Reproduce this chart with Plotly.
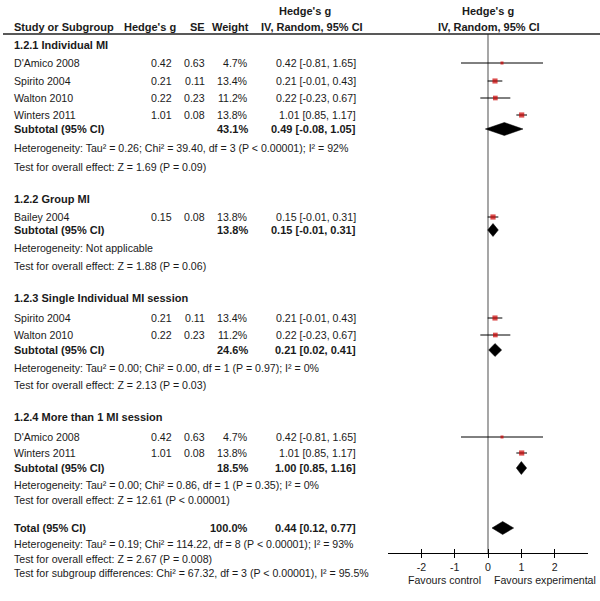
import plotly.graph_objects as go

# ---------------- data ----------------
group_titles = ["1.2.1 Individual MI", "1.2.2 Group MI",
                "1.2.3 Single Individual MI session", "1.2.4 More than 1 MI session"]

study_names = ["D'Amico 2008", "Spirito 2004", "Walton 2010", "Winters 2011",
               "Bailey 2004",
               "Spirito 2004", "Walton 2010",
               "D'Amico 2008", "Winters 2011"]
study_g = [0.42, 0.21, 0.22, 1.01, 0.15, 0.21, 0.22, 0.42, 1.01]
study_se = [0.63, 0.11, 0.23, 0.08, 0.08, 0.11, 0.23, 0.63, 0.08]
study_weight = [4.7, 13.4, 11.2, 13.8, 13.8, 13.4, 11.2, 4.7, 13.8]
study_lo = [-0.81, -0.01, -0.23, 0.85, -0.01, -0.01, -0.23, -0.81, 0.85]
study_hi = [1.65, 0.43, 0.67, 1.17, 0.31, 0.43, 0.67, 1.65, 1.17]

sub_weight = [43.1, 13.8, 24.6, 18.5]
sub_est = [0.49, 0.15, 0.21, 1.00]
sub_lo = [-0.08, -0.01, 0.02, 0.85]
sub_hi = [1.05, 0.31, 0.41, 1.16]
sub_het = ["Heterogeneity: Tau² = 0.26; Chi² = 39.40, df = 3 (P < 0.00001); I² = 92%",
           "Heterogeneity: Not applicable",
           "Heterogeneity: Tau² = 0.00; Chi² = 0.00, df = 1 (P = 0.97); I² = 0%",
           "Heterogeneity: Tau² = 0.00; Chi² = 0.86, df = 1 (P = 0.35); I² = 0%"]
sub_test = ["Test for overall effect: Z = 1.69 (P = 0.09)",
            "Test for overall effect: Z = 1.88 (P = 0.06)",
            "Test for overall effect: Z = 2.13 (P = 0.03)",
            "Test for overall effect: Z = 12.61 (P < 0.00001)"]

total_weight = 100.0
total_est, total_lo, total_hi = 0.44, 0.12, 0.77
total_het = "Heterogeneity: Tau² = 0.19; Chi² = 114.22, df = 8 (P < 0.00001); I² = 93%"
total_test = "Test for overall effect: Z = 2.67 (P = 0.008)"
subgroup_test = "Test for subgroup differences: Chi² = 67.32, df = 3 (P < 0.00001), I² = 95.5%"

tick_vals = [-2, -1, 0, 1, 2]
tick_text = ["-2", "-1", "0", "1", "2"]

# ---------------- layout (pixel rows) ----------------
W, H = 600, 601
group_head_y = [45, 199, 298, 417]
study_y = [63, 81, 98, 115, 217, 318, 335, 437, 453]
sub_y = [129, 230, 350, 468]
het_y = [148, 248, 368, 485]
test_y = [167, 266, 385, 500]
total_y, total_het_y, total_test_y, subgroup_test_y = 528, 544, 559, 573
header_y1, header_y2, header_line_y = 11, 27, 34
axis_y = 553

X_NAME, X_G, X_SE, X_W, X_CI = 13, 173, 206, 249, 357
FONT = "Liberation Sans, Arial, sans-serif"
FS = 10.6
FSB = 11
TXT = "#1a1a1a"

fig = go.Figure()

annotations = []


def txt(x, y, s, anchor="left", bold=False):
    annotations.append(dict(
        x=x / W, xref="paper", y=y, yref="y", text=(f"<b>{s}</b>" if bold else s),
        showarrow=False, xanchor=anchor, yanchor="middle",
        font=dict(family=FONT, size=(FSB if bold else FS), color=TXT), borderpad=0))


# headers
txt(X_NAME, header_y2, "Study or Subgroup", bold=True)
txt(177, header_y2, "Hedge's g", "right", bold=True)
txt(X_SE, header_y2, "SE", "right", bold=True)
txt(X_W + 1, header_y2, "Weight", "right", bold=True)
txt(305, header_y1, "Hedge's g", "center", bold=True)
txt(312, header_y2, "IV, Random, 95% CI", "center", bold=True)
txt(488, header_y1, "Hedge's g", "center", bold=True)
txt(489, header_y2, "IV, Random, 95% CI", "center", bold=True)

for i, t in enumerate(group_titles):
    txt(X_NAME, group_head_y[i], t, bold=True)
for i, n in enumerate(study_names):
    y = study_y[i]
    txt(X_NAME, y, n)
    txt(X_G, y, f"{study_g[i]:.2f}", "right")
    txt(X_SE, y, f"{study_se[i]:.2f}", "right")
    txt(X_W, y, f"{study_weight[i]:.1f}%", "right")
    txt(X_CI, y, f"{study_g[i]:.2f} [{study_lo[i]:.2f}, {study_hi[i]:.2f}]", "right")
for i in range(len(group_titles)):
    txt(X_NAME, sub_y[i], "Subtotal (95% CI)", bold=True)
    txt(X_W, sub_y[i], f"{sub_weight[i]:.1f}%", "right", bold=True)
    txt(X_CI, sub_y[i], f"{sub_est[i]:.2f} [{sub_lo[i]:.2f}, {sub_hi[i]:.2f}]", "right", bold=True)
    txt(X_NAME, het_y[i], sub_het[i])
    txt(X_NAME, test_y[i], sub_test[i])

txt(X_NAME, total_y, "Total (95% CI)", bold=True)
txt(X_W, total_y, f"{total_weight:.1f}%", "right", bold=True)
txt(X_CI, total_y, f"{total_est:.2f} [{total_lo:.2f}, {total_hi:.2f}]", "right", bold=True)
txt(X_NAME, total_het_y, total_het)
txt(X_NAME, total_test_y, total_test)
txt(X_NAME, subgroup_test_y, subgroup_test)

txt(482, 580, "Favours control", "right")
txt(493, 580, "Favours experimental", "left")

# study markers with CI lines
fig.add_trace(go.Scatter(
    x=study_g, y=study_y, mode="markers",
    marker=dict(symbol="square", color="#cc0000",
                size=[1.4 * w ** 0.5 for w in study_weight], line=dict(width=0)),
    error_x=dict(type="data", symmetric=False,
                 array=[h - g for g, h in zip(study_g, study_hi)],
                 arrayminus=[g - l for g, l in zip(study_g, study_lo)],
                 color="black", thickness=1, width=0),
    hoverinfo="skip", showlegend=False))

# diamonds
HALF = 6.5
diam = list(zip(sub_est, sub_lo, sub_hi, sub_y)) + [(total_est, total_lo, total_hi, total_y)]
for est, lo, hi, y in diam:
    fig.add_trace(go.Scatter(
        x=[lo, est, hi, est, lo], y=[y, y - HALF, y, y + HALF, y],
        mode="lines", fill="toself", fillcolor="black",
        line=dict(color="black", width=0.5), hoverinfo="skip", showlegend=False))

shapes = [
    dict(type="line", xref="paper", yref="y", x0=3 / W, x1=1, y0=header_line_y, y1=header_line_y,
         line=dict(color="#222", width=1.3)),
    dict(type="line", xref="x", yref="y", x0=0, x1=0, y0=header_line_y, y1=axis_y,
         line=dict(color="#777", width=1.3), layer="below"),
]

axis_pos = (H - axis_y) / H
fig.update_layout(
    width=W, height=H, margin=dict(l=0, r=0, t=0, b=0),
    paper_bgcolor="white", plot_bgcolor="white",
    annotations=annotations, shapes=shapes,
    xaxis=dict(domain=[388 / W, 588 / W], range=[-3, 3], anchor="free", position=axis_pos,
               showgrid=False, zeroline=False, showline=True, linecolor="black", linewidth=1,
               ticks="outside", ticklen=4, tickcolor="black", tickwidth=1,
               tickvals=tick_vals, ticktext=tick_text,
               tickfont=dict(family=FONT, size=FS, color=TXT)),
    xaxis2=dict(overlaying="x", matches="x", anchor="free", position=axis_pos,
                domain=[388 / W, 588 / W], range=[-3, 3],
                showgrid=False, zeroline=False, showline=False,
                ticks="inside", ticklen=4, tickcolor="black", tickwidth=1,
                tickvals=tick_vals, showticklabels=False),
    yaxis=dict(domain=[0, 1], range=[H, 0], visible=False, showgrid=False, zeroline=False),
)
# dummy trace to display xaxis2
fig.add_trace(go.Scatter(x=[None], y=[None], xaxis="x2", showlegend=False, hoverinfo="skip"))

fig.write_html("out.html", config={"displayModeBar": False},
               post_script="document.body.style.margin='0';document.body.style.padding='0';")
